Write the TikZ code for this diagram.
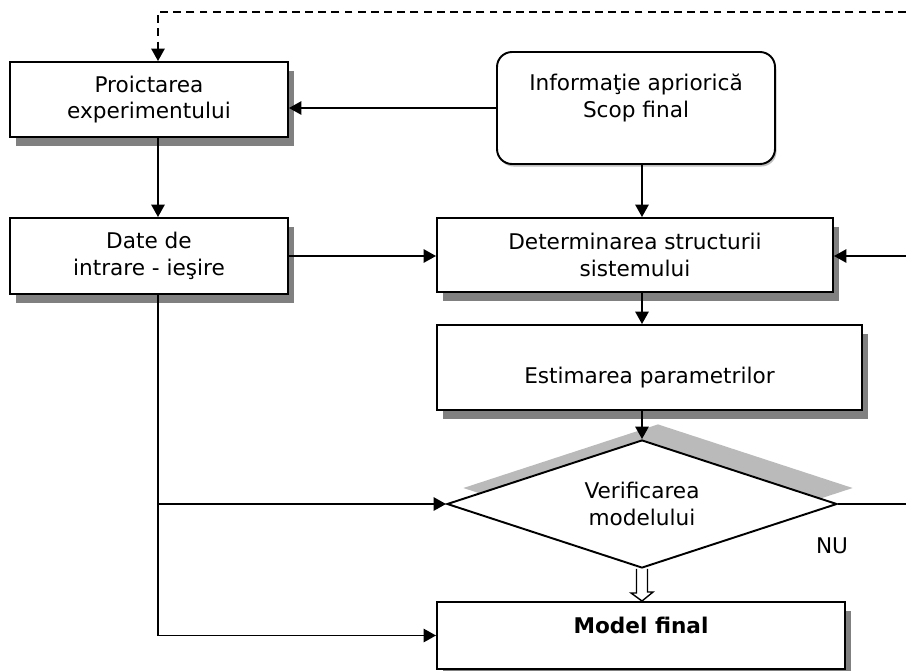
\documentclass[tikz,border=0pt]{standalone}
\usepackage{fontspec}
\setmainfont{DejaVu Sans}
\usetikzlibrary{shapes.geometric, shadows}
\usetikzlibrary{arrows.meta, positioning, calc}

\begin{document}
\begin{tikzpicture}[
    font=\fontsize{12.3}{15.3}\selectfont,
    box/.style={draw=black, line width=1.1pt, fill=white, align=center, minimum width=5.56cm,
      drop shadow={shadow xshift=0.12cm, shadow yshift=-0.17cm, fill=black!50, opacity=1}},
    rbox/.style={draw=black, line width=1.1pt, fill=white, align=center, rounded corners=0.3cm,
      drop shadow={shadow xshift=0.03cm, shadow yshift=-0.05cm, fill=black!25, opacity=1}},
    decide/.style={diamond, aspect=3, draw=black, line width=1.1pt, fill=white, align=center, inner sep=0pt,
      drop shadow={shadow xshift=0.32cm, shadow yshift=0.32cm, fill=black!27, opacity=1}},
    link/.style={line width=1.1pt, -{Triangle[length=7pt, width=7.5pt]}},
    plain/.style={line width=1.1pt}
]
\useasboundingbox (0,0) rectangle (18.12,-13.42);

\node[box, minimum height=1.5cm] (expt) at (2.98,-1.99) {Proictarea\\experimentului};
\node[box, minimum height=1.52cm] (date) at (2.98,-5.12) {Date de\\intrare - ieşire};
\node[rbox, minimum width=5.56cm, minimum height=2.24cm] (info) at (12.72,-2.16) {Informaţie apriorică\\Scop final\\[-1pt]\mbox{}};
\node[box, minimum width=7.92cm, minimum height=1.48cm] (det) at (12.7,-5.1) {Determinarea structurii\\sistemului};
\node[box, minimum width=8.5cm, minimum height=1.7cm, text height=0.73cm, text depth=0.11cm] (est) at (12.99,-7.35) {Estimarea parametrilor};
\node[decide, minimum width=7.8cm, minimum height=2.56cm] (verif) at (12.84,-10.08) {Verificarea\\modelului};
\node[box, minimum width=8.16cm, minimum height=1.34cm, text height=0.33cm, text depth=0.43cm] (model) at (12.82,-12.71) {\bfseries Model final};
\node (nu) at (16.64,-10.92) {NU};

\coordinate (colL) at (3.16,0);
\coordinate (fbR) at (18.12,-0.24);
\coordinate (fbS) at (18.12,-5.12);
\coordinate (fbV) at (18.12,-10.08);

\draw[link, dash pattern=on 4.5pt off 3pt] (fbR) -| (expt.north -| colL);
\draw[link] (info.west) -- (info.west -| expt.east);
\draw[link] (info.south -| verif.north) -- (det.north -| verif.north);
\draw[link] (expt.south -| colL) -- (date.north -| colL);
\draw[link] (date.east) -- (date.east -| det.west);
\draw[link] (fbS) -- (fbS -| det.east);
\draw[link] (det.south -| verif.north) -- (est.north -| verif.north);
\draw[link] (est.south -| verif.north) -- (verif.north);
\draw[plain] (verif.east) -- (fbV);
\draw[link] (date.south -| colL) |- (verif.west);
\draw[link] (date.south -| colL) |- (model.west);

% open arrow towards the final model
\draw[plain, line width=0.8pt, fill=white] ($(verif.south)+(-0.11,0)$) -- ($(verif.south)+(-0.11,-0.48)$) -- ++(-0.11,0)
  -- (model.north -| verif.south) -- ++(0.22,0.18) -- ++(-0.11,0) -- ($(verif.south)+(0.11,0)$);
\end{tikzpicture}
\end{document}
